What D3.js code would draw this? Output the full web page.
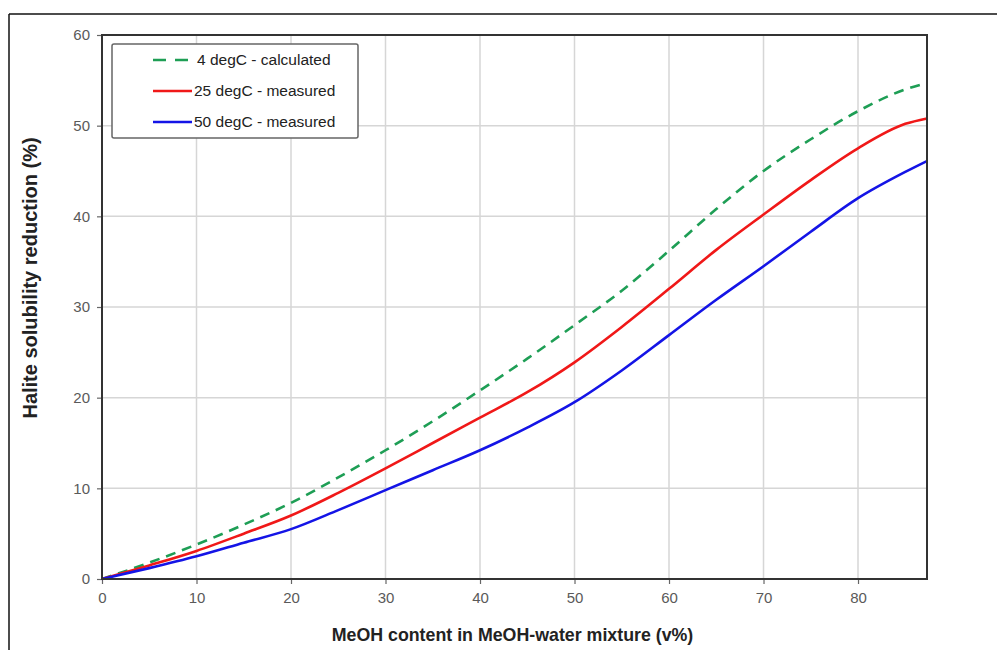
<!DOCTYPE html>
<html>
<head>
<meta charset="utf-8">
<script src="https://cdn.jsdelivr.net/npm/d3@7"></script>
<style>
  html, body { margin: 0; padding: 0; background: #fff; }
  svg { display: block; font-family: Arial, "Liberation Sans", sans-serif; }
</style>
</head>
<body>
<div id="chart"></div>
<script>
// data
const meoh = [0, 5, 10, 15, 20, 25, 30, 35, 40, 45, 50, 55, 60, 65, 70, 75, 80, 85, 87.3];
const calc4 = [0, 1.8, 3.8, 6.0, 8.4, 11.2, 14.2, 17.4, 20.8, 24.3, 28.0, 31.8, 36.2, 40.8, 45.0, 48.5, 51.6, 54.0, 54.7];
const meas25 = [0, 1.5, 3.1, 5.0, 7.0, 9.5, 12.2, 15.0, 17.8, 20.6, 23.9, 27.8, 32.0, 36.3, 40.2, 44.0, 47.5, 50.2, 50.8];
const meas50 = [0, 1.2, 2.5, 4.0, 5.5, 7.6, 9.8, 12.0, 14.2, 16.7, 19.5, 23.0, 26.9, 30.8, 34.5, 38.3, 42.0, 44.9, 46.1];
const xTicks = [0, 10, 20, 30, 40, 50, 60, 70, 80];
const yTicks = [0, 10, 20, 30, 40, 50, 60];
const seriesNames = ["4 degC - calculated", "25 degC - measured", "50 degC - measured"];

// ===============================
// DIMENSIONS
// ===============================
const W = 997, H = 650;
const margin = { top: 35, right: 70, bottom: 71, left: 102 };
const width = W - margin.left - margin.right;
const height = H - margin.top - margin.bottom;

const root = d3.select("#chart").append("svg")
  .attr("width", W)
  .attr("height", H);

// outer frame (top + left edges of a cropped border)
root.append("line")
  .attr("x1", 9).attr("x2", W).attr("y1", 14).attr("y2", 14)
  .attr("stroke", "#111").attr("stroke-width", 1.5);
root.append("line")
  .attr("x1", 9).attr("x2", 9).attr("y1", 14).attr("y2", H)
  .attr("stroke", "#111").attr("stroke-width", 1.5);

const svg = root.append("g")
  .attr("transform", `translate(${margin.left},${margin.top})`);

// ===============================
// SCALES
// ===============================
const x = d3.scaleLinear().domain([0, 87.3]).range([0, width]);
const y = d3.scaleLinear().domain([0, 60]).range([height, 0]);

// ===============================
// GRID
// ===============================
svg.append("g")
  .selectAll("line")
  .data(xTicks.slice(1))
  .join("line")
  .attr("x1", d => x(d)).attr("x2", d => x(d))
  .attr("y1", 0).attr("y2", height)
  .attr("stroke", "#d6d6d6").attr("stroke-width", 1.5);

svg.append("g")
  .selectAll("line")
  .data(yTicks.slice(1))
  .join("line")
  .attr("x1", 0).attr("x2", width)
  .attr("y1", d => y(d)).attr("y2", d => y(d))
  .attr("stroke", "#d6d6d6").attr("stroke-width", 1.5);

// ===============================
// AXES
// ===============================
const xAxis = svg.append("g")
  .attr("transform", `translate(0,${height})`)
  .call(d3.axisBottom(x).tickValues(xTicks).tickSize(5).tickPadding(8).tickFormat(d3.format("d")));

const yAxis = svg.append("g")
  .call(d3.axisLeft(y).tickValues(yTicks).tickSize(5).tickPadding(7).tickFormat(d3.format("d")));

[xAxis, yAxis].forEach(g => {
  g.select(".domain").remove();
  g.selectAll(".tick line").attr("stroke", "#666").attr("stroke-width", 1.2);
  g.selectAll(".tick text")
    .attr("fill", "#5a5a5a")
    .attr("font-size", "15px")
    .attr("font-family", "Arial, 'Liberation Sans', sans-serif");
});

// ===============================
// LINES
// ===============================
const line = d3.line()
  .x(d => x(d[0]))
  .y(d => y(d[1]))
  .curve(d3.curveMonotoneX);

const series = [
  { name: seriesNames[0], values: calc4, color: "#1e9e55", dash: "10,7" },
  { name: seriesNames[1], values: meas25, color: "#f01818", dash: null },
  { name: seriesNames[2], values: meas50, color: "#1414e6", dash: null }
];

series.forEach(s => {
  svg.append("path")
    .datum(meoh.map((m, i) => [m, s.values[i]]))
    .attr("fill", "none")
    .attr("stroke", s.color)
    .attr("stroke-width", 2.6)
    .attr("stroke-dasharray", s.dash)
    .attr("d", line);
});

// plot frame
svg.append("rect")
  .attr("x", 0).attr("y", 0)
  .attr("width", width).attr("height", height)
  .attr("fill", "none")
  .attr("stroke", "#333")
  .attr("stroke-width", 2);

// ===============================
// LEGEND
// ===============================
const legend = svg.append("g").attr("transform", "translate(10,9)");

legend.append("rect")
  .attr("width", 246).attr("height", 94)
  .attr("rx", 2)
  .attr("fill", "#fff")
  .attr("stroke", "#666")
  .attr("stroke-width", 1.5);

series.forEach((s, i) => {
  const yy = 16 + i * 31;
  legend.append("line")
    .attr("x1", 41).attr("x2", 80)
    .attr("y1", yy).attr("y2", yy)
    .attr("stroke", s.color)
    .attr("stroke-width", 2.6)
    .attr("stroke-dasharray", s.dash ? "13,9" : null);
  legend.append("text")
    .attr("x", i === 0 ? 85 : 82)
    .attr("y", yy + 5)
    .attr("font-size", "15.5px")
    .attr("fill", "#222")
    .text(s.name);
});

// ===============================
// TITLES
// ===============================
svg.append("text")
  .attr("x", width / 2 - 2)
  .attr("y", height + 62)
  .attr("text-anchor", "middle")
  .attr("font-size", "17.8px")
  .attr("font-weight", "bold")
  .attr("fill", "#222")
  .text("MeOH content in MeOH-water mixture (v%)");

svg.append("text")
  .attr("transform", "rotate(-90)")
  .attr("x", -(278 - margin.top))
  .attr("y", -(margin.left - 37))
  .attr("text-anchor", "middle")
  .attr("font-size", "20px")
  .attr("font-weight", "bold")
  .attr("fill", "#222")
  .text("Halite solubility reduction (%)");
</script>
</body>
</html>
